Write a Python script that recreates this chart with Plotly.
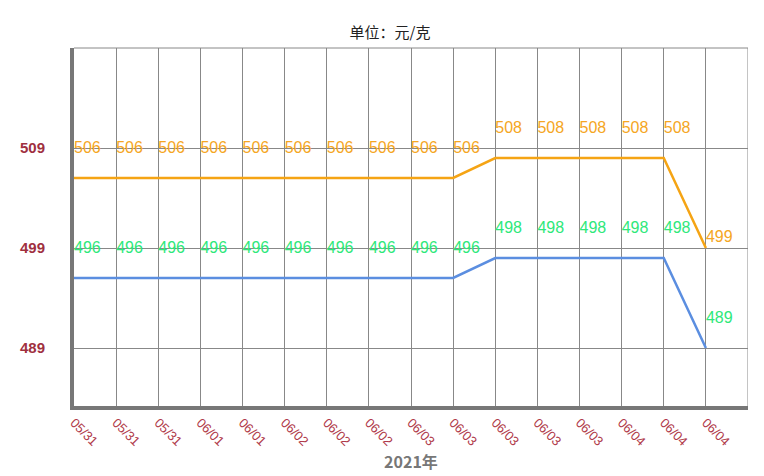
import plotly.graph_objects as go

dates = ["05/31", "05/31", "05/31", "06/01", "06/01", "06/02", "06/02", "06/02",
         "06/03", "06/03", "06/03", "06/03", "06/03", "06/04", "06/04", "06/04"]
upper = [506, 506, 506, 506, 506, 506, 506, 506, 506, 506, 508, 508, 508, 508, 508, 499]
lower = [496, 496, 496, 496, 496, 496, 496, 496, 496, 496, 498, 498, 498, 498, 498, 489]
y_ticks = [489, 499, 509]

idx = list(range(len(dates)))
font = "Noto Sans CJK SC, Liberation Sans, sans-serif"
num_font = "Liberation Sans, Arial, sans-serif"

fig = go.Figure()
pos = ["top right"] * (len(idx) - 1) + ["middle right"]
fig.add_trace(go.Scatter(
    x=idx, y=upper, mode="lines+text", text=[str(v) + "<br> " for v in upper[:-1]] + [str(upper[-1]) + "<br> "],
    textposition=pos, textfont=dict(color="#f5a623", size=16, family=num_font),
    line=dict(color="#f5a414", width=2.5), cliponaxis=False, hoverinfo="skip",
))
fig.add_trace(go.Scatter(
    x=idx, y=lower, mode="lines+text", text=[str(v) + "<br> " for v in lower],
    textposition="top right", textfont=dict(color="#2ee87a", size=16, family=num_font),
    line=dict(color="#5b8ee0", width=2.5), cliponaxis=False, hoverinfo="skip",
))

fig.update_layout(
    width=764, height=476,
    margin=dict(l=64, r=24, t=40, b=78),
    paper_bgcolor="white", plot_bgcolor="white",
    showlegend=False,
    title=dict(text="单位：元/克", x=0.5, xanchor="center", y=0.96,
               font=dict(size=15, color="#222", family=font)),
    xaxis=dict(
        range=[0, 16], tickvals=idx, ticktext=dates, tickangle=45,
        tickfont=dict(color="#b03a4a", size=13, family=num_font),
        showgrid=True, gridcolor="#888", gridwidth=1,
        showline=True, linecolor="#777", linewidth=4, mirror=False,
        ticks="", zeroline=False,
        title=dict(text="<b>2021年</b>", font=dict(size=16, color="#777", family=font), standoff=6),
    ),
    yaxis=dict(
        range=[483.2, 519], tickvals=y_ticks, ticktext=["<b>%d</b>" % v for v in y_ticks],
        tickfont=dict(color="#a0303f", size=15, family=num_font),
        showgrid=True, gridcolor="#888", gridwidth=1,
        showline=True, linecolor="#777", linewidth=4,
        ticks="", ticklabelstandoff=22, zeroline=False,
    ),
)
fig.add_shape(type="line", xref="x", yref="paper", x0=16, x1=16, y0=0, y1=1,
              line=dict(color="#888", width=1))
fig.add_shape(type="line", xref="paper", yref="paper", x0=0, x1=1, y0=1, y1=1,
              line=dict(color="#888", width=1))

fig.write_html("out.html")
